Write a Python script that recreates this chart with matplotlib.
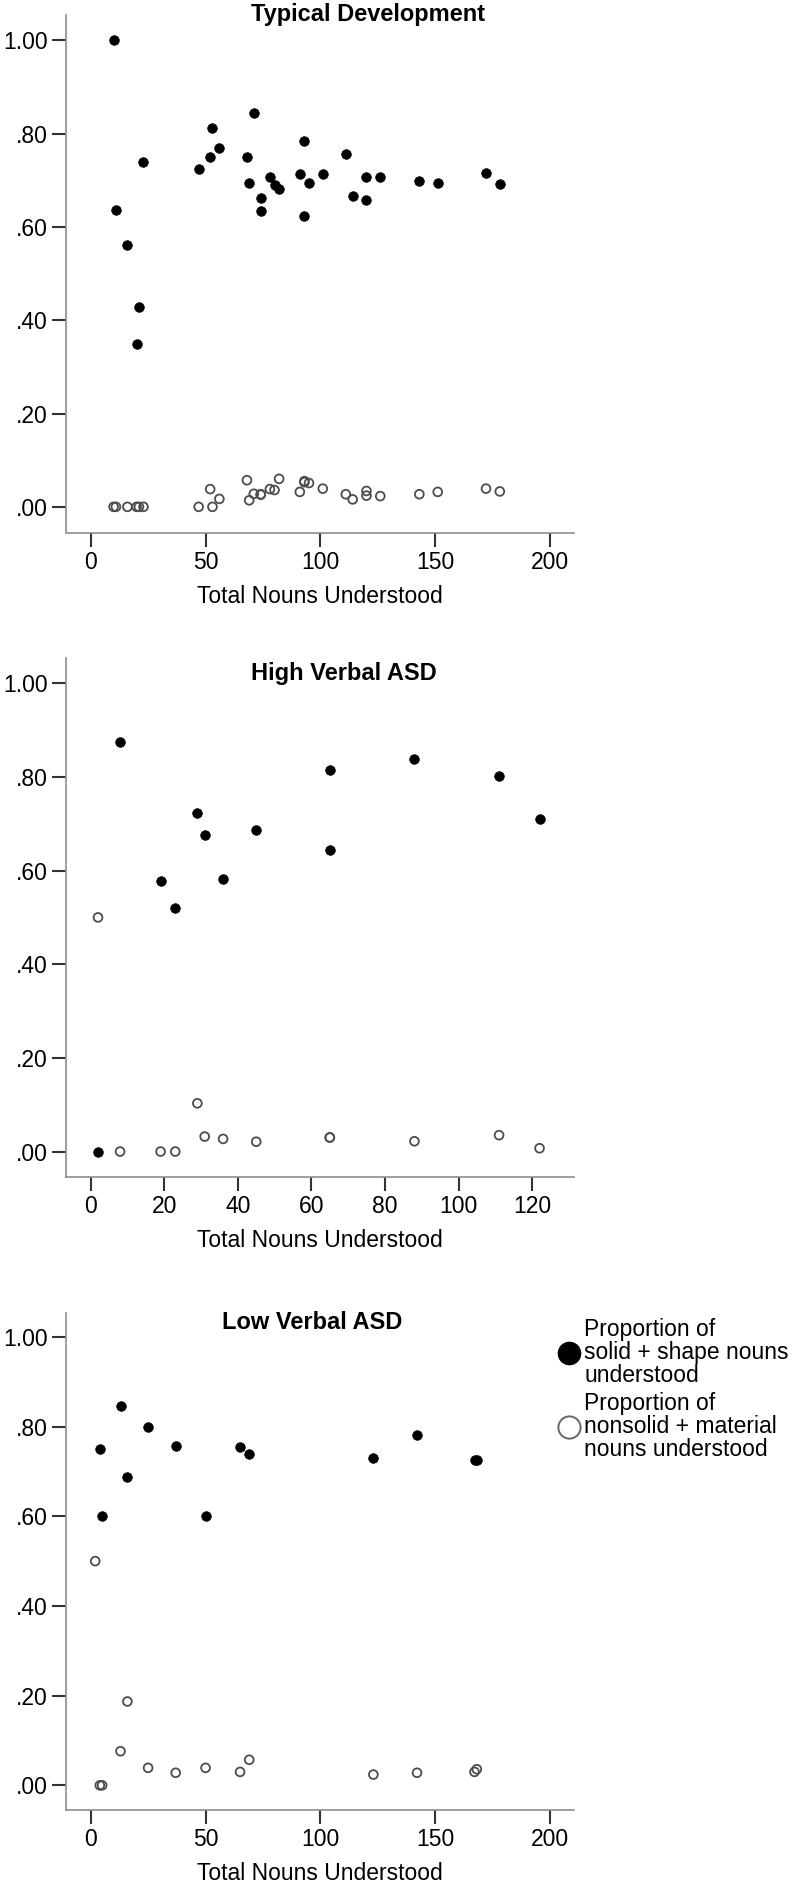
import matplotlib
matplotlib.use("Agg")
import matplotlib.pyplot as plt
from matplotlib.lines import Line2D

plt.rcParams["font.family"] = ["Liberation Sans", "DejaVu Sans"]

# Typical Development
td_nouns = [10, 11, 16, 20, 21, 23, 47, 52, 53, 56, 68, 69, 71, 74, 74, 78,
            80, 82, 91, 93, 93, 95, 101, 111, 114, 120, 120, 126, 143, 151, 172, 178]
td_solid = [1.0, 0.636, 0.562, 0.349, 0.429, 0.739, 0.723, 0.75, 0.811, 0.768,
            0.75, 0.695, 0.844, 0.662, 0.634, 0.706, 0.689, 0.682, 0.714, 0.785,
            0.623, 0.694, 0.713, 0.756, 0.666, 0.707, 0.658, 0.706, 0.699, 0.695,
            0.715, 0.691]
td_nonsolid = [0, 0, 0, 0, 0, 0, 0, 0.038, 0, 0.017, 0.057, 0.014, 0.028, 0.026,
               0.027, 0.038, 0.036, 0.06, 0.032, 0.053, 0.055, 0.051, 0.039, 0.027,
               0.016, 0.034, 0.024, 0.023, 0.027, 0.032, 0.039, 0.033]

# High Verbal ASD
hv_nouns = [2, 8, 19, 23, 29, 31, 36, 45, 65, 65, 88, 111, 122]
hv_solid = [0, 0.874, 0.577, 0.52, 0.723, 0.676, 0.581, 0.687, 0.814, 0.644,
            0.839, 0.801, 0.711]
hv_nonsolid = [0.5, 0, 0, 0, 0.103, 0.032, 0.027, 0.021, 0.03, 0.03, 0.022,
               0.035, 0.007]

# Low Verbal ASD
lv_solid_nouns = [4, 5, 13, 16, 25, 37, 50, 65, 69, 123, 142, 167, 168]
lv_solid = [0.75, 0.6, 0.846, 0.687, 0.8, 0.757, 0.6, 0.754, 0.739, 0.731,
            0.781, 0.725, 0.725]
lv_nonsolid_nouns = [2, 4, 5, 13, 16, 25, 37, 50, 65, 69, 123, 142, 167, 168]
lv_nonsolid = [0.5, 0, 0, 0.076, 0.187, 0.039, 0.028, 0.039, 0.03, 0.057,
               0.024, 0.028, 0.03, 0.036]

y_ticks = [0, 0.2, 0.4, 0.6, 0.8, 1.0]
y_ticklabels = [".00", ".20", ".40", ".60", ".80", "1.00"]

W, H = 793, 1891
FS = 16.5
SPINE = "#8c8c8c"
OPEN_EDGE = "#4d4d4d"


def px_axes(fig, left, top, right, bottom):
    return fig.add_axes([left / W, 1 - bottom / H, (right - left) / W, (bottom - top) / H])


def style(ax, xlim, xticks):
    ax.set_xlim(*xlim)
    ax.set_ylim(-0.055, 1.054)
    ax.set_xticks(xticks)
    ax.set_xticklabels([str(t) for t in xticks])
    ax.set_yticks(y_ticks)
    ax.set_yticklabels(y_ticklabels)
    for side in ("top", "right"):
        ax.spines[side].set_visible(False)
    for side in ("left", "bottom"):
        ax.spines[side].set_color(SPINE)
        ax.spines[side].set_linewidth(1.2)
    ax.tick_params(length=10, width=1.5, color="#333333", labelsize=FS, pad=3)
    ax.set_xlabel("Total Nouns Understood", fontsize=FS, labelpad=8)


def draw(ax, xs_solid, ys_solid, xs_non, ys_non):
    ax.scatter(xs_solid, ys_solid, s=48, color="black", edgecolors="black",
               linewidths=0.5, zorder=3)
    ax.scatter(xs_non, ys_non, s=40, facecolors="none", edgecolors=OPEN_EDGE,
               linewidths=1.3, zorder=4)


fig = plt.figure(figsize=(W / 100, H / 100), dpi=100)

ax1 = px_axes(fig, 65.8, 15, 574.5, 532.5)
draw(ax1, td_nouns, td_solid, td_nouns, td_nonsolid)
style(ax1, (-10.8, 210.5), [0, 50, 100, 150, 200])

ax2 = px_axes(fig, 65.8, 658, 574.5, 1177.3)
draw(ax2, hv_nouns, hv_solid, hv_nouns, hv_nonsolid)
style(ax2, (-6.75, 131.5), [0, 20, 40, 60, 80, 100, 120])

ax3 = px_axes(fig, 65.8, 1312.7, 574.5, 1810)
draw(ax3, lv_solid_nouns, lv_solid, lv_nonsolid_nouns, lv_nonsolid)
style(ax3, (-10.8, 210.5), [0, 50, 100, 150, 200])

titles = [("Typical Development", 368, 21), ("High Verbal ASD", 344, 680),
          ("Low Verbal ASD", 312, 1329)]
for text, cx, base in titles:
    fig.text(cx / W, 1 - base / H, text, ha="center", va="baseline",
             fontsize=17, fontweight="bold")

handles = [
    Line2D([], [], marker="o", ls="none", mfc="black", mec="black", ms=16),
    Line2D([], [], marker="o", ls="none", mfc="none", mec="#666666", mew=1.4, ms=16),
]
labels = ["Proportion of\nsolid + shape nouns\nunderstood",
          "Proportion of\nnonsolid + material\nnouns understood"]
leg = fig.legend(handles, labels, loc="upper left",
                 bbox_to_anchor=(557.5 / W, 1 - 1318 / H), frameon=False,
                 fontsize=FS, handlelength=1.0, handletextpad=0.16,
                 borderpad=0, borderaxespad=0, labelspacing=0.2)
for t in leg.get_texts():
    t.set_linespacing(1.0)

fig.savefig("out.png", dpi=100)
